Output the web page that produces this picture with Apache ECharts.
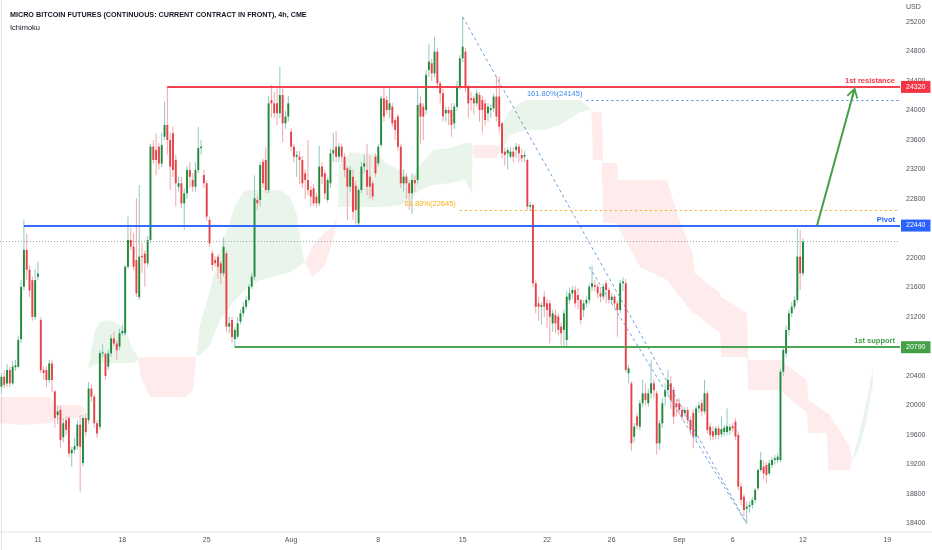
<!DOCTYPE html>
<html><head><meta charset="utf-8">
<script src="https://cdn.jsdelivr.net/npm/echarts@6/dist/echarts.min.js"></script>
<style>html,body{margin:0;padding:0;background:#fff}#c{width:932px;height:550px}</style>
</head><body><div id="c"></div>
<script>
// ---------- data ----------
const N = 320; // category slots (4h bars incl. future space)
const tickIdx = [13,43,73,103,134,164,194,217,241,260,285,315];
const tickLabels = ['11','18','25','Aug','8','15','22','26','Sep','6','12','19'];

// [open, close, low, high]
const candles = [
[20255,20390,20165,20440],[20390,20280,20230,20480],[20300,20480,20250,20560],[20480,20300,20250,20530],[20300,20527,20280,20600],
[20520,20545,20470,20620],[20527,20890,20500,20950],[20900,21610,20850,21700],[21610,22110,21560,22520],[22110,21840,21700,22330],
[21840,21560,21470,21900],[21700,21200,21150,21750],[21200,21700,21160,21850],[21747,21790,21700,21950],[21160,20480,20440,21200],
[20480,20440,20350,20530],[20480,20346,20250,20530],[20346,20570,20300,20620],[20570,20346,20180,20620],[20190,19830,19700,20210],
[19870,19920,19750,19990],[19940,19530,19420,20000],[19570,19760,19500,19830],[19800,19670,19600,19850],[19830,19350,19300,19860],
[19350,19400,19170,19440],[19400,19450,19350,19560],[19450,19740,19400,19800],[19740,19440,18830,19870],[19220,19830,19170,19880],
[19830,19640,19580,19900],[19800,20230,19750,20320],[20230,20120,20050,20280],[20120,19760,19700,20150],[19760,19620,19560,19800],
[19710,20710,19670,20750],[20710,20720,20650,20830],[20700,20400,20350,20720],[20527,20708,20480,20760],[20708,20910,20660,20960],
[20910,20840,20800,21000],[20840,20750,20620,20880],[20800,20980,20750,21040],[20980,21010,20950,21100],[20979,21883,20950,21900],
[21883,22244,21850,22560],[22244,22154,22100,22400],[22154,21883,21830,22340],[21973,21521,21470,22810],[21470,22018,21430,22990],
[22030,22010,21800,22200],[22060,21928,21610,22100],[21928,22244,21880,22300],[22244,23510,22200,23550],[23510,23330,23280,23600],
[23465,23330,23125,23690],[23510,23280,23200,23560],[23280,23530,23230,23700],[23645,23804,23600,24120],[23804,23600,23400,24323],
[23600,23239,22920,23700],[23690,23193,23100,23780],[23330,23013,22700,23400],[22967,23013,22900,23100],[23013,22741,22680,23100],
[22741,22877,22380,22950],[22877,23193,22800,23250],[23193,23100,22950,23300],[23060,22967,22900,23150],[22967,23193,22900,23300],
[23193,23490,23150,23780],[23490,23510,23400,23600],[23125,23013,22950,23200],[23013,22561,22500,23050],[22515,22199,22150,22560],
[22064,21905,21830,22100],[21973,21930,21880,22020],[22018,21883,21720,22050],[21928,21792,21650,21960],[21792,22154,21750,22280],
[22064,21069,21000,22100],[21069,21114,20980,21200],[21160,20930,20850,21200],[20900,21024,20790,21060],[20933,21114,20900,21200],
[21137,21250,21100,21300],[21250,21340,21200,21400],[21340,21431,21300,21480],[21431,21611,21400,21650],[21611,21747,21580,21800],
[21747,22810,21700,23120],[22787,22741,22650,22850],[22787,23261,22700,23300],[23306,23013,22950,23350],[23329,22922,22880,23500],
[22922,24097,22880,24200],[24140,24097,23900,24346],[24097,23962,23900,24250],[24097,23962,23800,24300],[23962,24210,23900,24595],
[24210,23826,23570,24300],[23826,23917,23750,24000],[23917,24097,23850,24200],[23713,23510,23450,23760],[23510,23374,23300,23550],
[23374,23397,23100,23450],[23374,23329,23000,23450],[23329,23013,22950,23380],[23148,23058,22800,23200],[23058,22922,22850,23600],
[22922,22832,22700,22980],[22945,22741,22700,23000],[22832,22741,22680,22880],[22741,23239,22700,23520],[23239,23103,23000,23300],
[23148,22877,22800,23200],[22787,23058,22750,23100],[23013,23419,22950,23480],[23419,23465,23300,23700],[23510,23374,23300,23720],
[23374,23510,23300,23560],[23510,23374,23300,23550],[23374,23193,23100,23420],[23216,22967,22515,23250],[22967,23193,22900,23250],
[23103,22628,22520,23200],[22980,22650,22450,23050],[22470,22922,22425,22950],[22922,23239,22880,23300],[23239,23284,23150,23400],
[23193,22967,22850,23550],[23103,22967,22800,23400],[23013,22832,22780,23050],[23374,23148,23100,23420],[23284,23510,23250,23550],
[23533,24165,23500,24200],[24165,23917,23850,24323],[24142,24007,23950,24200],[24007,24097,23900,24300],[24052,23826,23780,24100],
[23871,23736,23600,23900],[23917,23510,23450,23950],[23510,23013,22950,23550],[23013,23103,22900,23200],[23103,23013,22800,23150],
[23013,22877,22651,23050],[22877,23058,22600,23150],[23058,23013,22900,23120],[23058,24075,23000,24300],[24097,23917,23550,24200],
[24052,23917,23600,24100],[24007,24482,23950,24550],[24550,24663,24450,24900],[24640,24504,24400,24700],[24504,24798,24450,25000],
[24798,24369,24300,24850],[24369,24233,24100,24400],[24233,23917,23850,24300],[23962,24007,23850,24050],[24007,23962,23800,24050],
[24007,23804,23645,24100],[23826,24052,23750,24100],[24052,24323,24000,24400],[24323,24708,24280,24750],[24708,24866,24650,25270],
[24798,24323,24250,24850],[24323,24097,23900,24350],[24165,24143,24000,24250],[24165,24097,23950,24200],[24097,24233,24050,24280],
[24210,24007,23850,24250],[24143,24007,23700,24200],[24097,23871,23800,24150],[23962,24052,23850,24100],[24007,24030,23900,24080],
[24030,24188,23980,24230],[24188,23917,23850,24460],[24188,23781,23700,24460],[23826,23419,23350,23850],[23442,23397,23250,23500],
[23419,23465,23200,23500],[23374,23442,23350,23500],[23442,23374,23300,23500],[23465,23510,23350,23560],[23510,23419,23300,23550],
[23397,23352,23300,23480],[23374,23397,23300,23450],[23329,22696,22650,23350],[22696,22719,22640,22760],[22719,21657,21600,22740],
[21657,21340,21250,21700],[21385,21340,21150,21480],[21340,21363,21100,21400],[21476,21340,21200,21550],[21385,21295,21050,21450],
[21385,21205,20843,21430],[21114,21250,21000,21300],[21228,21114,20980,21300],[21205,21024,20950,21250],[21069,20979,20820,21120],
[21024,21250,20800,21300],[20888,21476,20790,21550],[21431,21521,21380,21600],[21521,21566,21450,21620],[21566,21385,21330,21620],
[21498,21431,21300,21600],[21431,21159,21100,21450],[21295,21385,21200,21430],[21385,21431,21330,21480],[21431,21611,21380,21650],
[21611,21657,21550,21900],[21634,21611,21550,21700],[21611,21521,21450,21650],[21521,21476,21400,21600],[21476,21611,21430,21650],
[21657,21566,21385,21700],[21566,21431,21380,21600],[21431,21476,21380,21520],[21476,21385,21330,21500],[21385,21295,20933,21420],
[21295,21657,21250,21700],[21657,21680,21550,21740],[21657,20482,20450,21720],[20436,20504,20300,20550],[20301,19487,19380,20330],
[19577,19713,19500,19760],[19850,19730,19680,19900],[19713,20030,19660,20080],[20030,20165,19980,20350],[20165,20075,20000,20300],
[20030,20165,19980,20230],[20165,20301,20100,20620],[20301,20210,20100,20350],[20165,19487,19330,20200],[19487,19758,19400,19800],
[19758,20030,19700,20100],[20120,20210,20000,20300],[20210,20346,20150,20480],[20301,20075,19950,20400],[20210,19849,19750,20250],
[20030,19980,19850,20080],[20030,19939,19870,20100],[19939,19849,19800,20000],[19894,19939,19850,19980],[19939,19803,19750,19980],
[19803,19668,19600,19850],[19900,19580,19420,19950],[19580,19960,19520,20000],[19960,20000,19900,20050],[20030,19920,19850,20080],
[19920,20165,19880,20346],[20165,19668,19620,20200],[19713,19600,19530,19760],[19650,19580,19530,19720],[19600,19690,19550,19720],
[19690,19600,19550,19730],[19610,19680,19570,19850],[19640,19700,19580,19730],[19640,19720,19600,19960],[19660,19710,19600,19750],
[19720,19690,19640,19760],[19781,19580,19530,19830],[19600,18900,18850,19650],[18900,18719,18650,18950],[18764,18583,18500,18800],
[18600,18628,18400,18700],[18628,18651,18550,18700],[18651,18719,18600,18760],[18719,18854,18680,18880],[18877,19125,18850,19150],
[19125,19261,19100,19374],[19171,19080,19000,19250],[19193,19058,18945,19230],[19080,19216,19050,19260],[19193,19261,19150,19300],
[19261,19284,19200,19330],[19261,19306,19220,19350],[19261,20459,19230,20500],[20459,20753,20400,20800],[20707,21024,20650,21080],
[21024,21250,20950,21300],[21250,21340,21200,21400],[21340,21431,21300,21480],[21431,22018,21400,22402],[22018,21792,21566,22380],
[21792,22222,21750,22267]
];

// Ichimoku cloud breakpoints (bar index, Senkou span A, Senkou span B)
const cloudX = [-0.5,6.6,17.3,19.1,28,30,31,33.3,35.1,38.6,43.2,44.7,46.8,48.6,49.3,52.8,65.3,68.1,69.2,70.6,74.2,77.7,83.1,86.6,92,99.1,102.6,105.1,107.2,107.9,110.8,115.1,117.9,119.7,120,124,134.6,136.4,141.7,145.3,148.8,153.5,159.5,164.8,167.3,167.5,168,176.2,177.3,178.3,180.8,186.2,193.3,198.6,205.7,209.3,209.8,210.3,213.5,213.9,218.9,219.2,227.1,236.7,240.2,245.9,246.5,255.5,256,265.1,265.5,276.8,286.4,287,293.5,294,301.7,302.4,304.5,307,309.9];
const spanA  = [19762,19735,19762,19803,19830,19950,20549,21024,21132,21159,21064,20956,20752,20657,20413,20115,20115,20210,20644,21091,21566,22108,22719,22922,22922,22922,22827,22583,22041,21932,21742,21905,22244,22583,23261,23437,23397,23288,23193,23058,23261,23464,23491,23559,23559,23440,23356,23356,23480,23803,24007,24142,24142,24142,24142,24034,24010,23329,23329,22474,22474,22420,21878,21702,21525,21254,21254,20983,20657,20657,20210,20210,19898,19627,19627,19125,19125,19250,19530,19940,20520];
const spanB  = [20115,20115,20115,20006,20006,19950,20508,20549,20576,20576,20576,20576,20576,20617,20657,20657,20657,20657,20657,20684,20820,21159,21430,21566,21702,21769,21810,21864,21932,21932,22176,22352,22420,22583,22691,22691,22691,22691,22719,22786,22922,22990,23017,23058,22882,23440,23532,23532,23480,23464,23668,23736,23736,23803,23980,24007,24010,23980,23980,23288,23288,23058,23058,23058,22610,22041,21796,21525,21471,21254,20617,20617,20346,20074,19898,19898,19437,19250,19380,19700,20300];

// Horizontal levels
const levelNames  = ['1st resistance','Pivot','1st support'];
const levelValues = [24320, 22440, 20790];
const levelStart  = [59, 8, 83];
const levelColors = ['#f23645', '#2962ff', '#43a047'];
// Fibonacci levels
const fibNames  = ['161.80%(24145)', '61.80%(22645)'];
const fibValues = [24145, 22645];
const fibStart  = [208, 163];
const fibColors = ['#3d8be8', '#f5b014'];
const lastPrice = 22222;
// Trendlines (from swing high to swing low) and projection arrow
const trend1 = [[164, 25270], [265, 18400]];
const trend2 = [[209, 21880], [265, 18400]];
const arrowPts = [[290, 22440], [303, 24245]];

// ---------- chart ----------
const FONT = 'Liberation Sans, Arial, sans-serif';
const END = N - 0.5;
const cats = Array.from({length: N}, (_, i) => {
  const k = tickIdx.indexOf(i); return k >= 0 ? tickLabels[k] : '';
});

const UP = '#22893a', DOWN = '#e5434a', UPW = '#8ccbbf', DOWNW = '#f2a6aa';
const CG = 'rgba(76,175,80,0.12)', CR = 'rgba(242,54,69,0.10)';

function renderCandle(params, api) {
  const i = api.value(0), o = api.value(1), c = api.value(2), l = api.value(3), h = api.value(4);
  const po = api.coord([i, o]), pc = api.coord([i, c]), pl = api.coord([i, l]), ph = api.coord([i, h]);
  const bw = Math.max(1.6, api.size([1, 0])[0] * 0.68);
  const up = c >= o;
  const top = Math.min(po[1], pc[1]);
  const hgt = Math.max(1, Math.abs(po[1] - pc[1]));
  return {type: 'group', children: [
    {type: 'line', shape: {x1: po[0], y1: ph[1], x2: po[0], y2: pl[1]}, style: {stroke: up ? UPW : DOWNW, lineWidth: 1}},
    {type: 'rect', shape: {x: po[0] - bw / 2, y: top, width: bw, height: hgt}, style: {fill: up ? UP : DOWN}}
  ]};
}

function renderCloud(params, api) {
  const pts = cloudX.map((x, i) => ({x, a: spanA[i], b: spanB[i]}));
  const runs = [];
  let cur = [pts[0]];
  for (let i = 1; i < pts.length; i++) {
    const q = pts[i - 1], p = pts[i];
    const d0 = q.a - q.b, d1 = p.a - p.b;
    if (d0 * d1 < 0) {
      const t = d0 / (d0 - d1);
      const xm = q.x + (p.x - q.x) * t, vm = q.a + (p.a - q.a) * t;
      const m = {x: xm, a: vm, b: vm};
      cur.push(m); runs.push(cur); cur = [m];
    }
    cur.push(p);
    if (d1 === 0) { runs.push(cur); cur = [p]; }
  }
  if (cur.length > 1) runs.push(cur);
  const children = [];
  runs.forEach(run => {
    let s = 0; run.forEach(p => s += p.a - p.b);
    const top = run.map(p => api.coord([p.x, p.a]));
    const bot = run.slice().reverse().map(p => api.coord([p.x, p.b]));
    children.push({type: 'polygon', shape: {points: top.concat(bot)}, style: {fill: s >= 0 ? CG : CR}});
  });
  return {type: 'group', children};
}

const levelLines = [];
levelValues.forEach((v, k) => {
  const ls = {color: levelColors[k], width: 1.5, type: 'solid'};
  levelLines.push([
    {coord: [levelStart[k], v], lineStyle: ls,
     label: {show: true, position: 'insideEndTop', formatter: levelNames[k], color: levelColors[k],
             fontSize: 7.5, fontWeight: 'bold', fontFamily: FONT, distance: [5, 2]}},
    {coord: [END, v]}
  ]);
  levelLines.push([
    {coord: [levelStart[k], v], lineStyle: ls,
     label: {show: true, position: 'end', formatter: String(v), color: '#ffffff', backgroundColor: levelColors[k],
             padding: [3, 5, 2, 5], fontSize: 7, fontFamily: FONT, distance: 1}},
    {coord: [END, v]}
  ]);
});
fibValues.forEach((v, k) => {
  levelLines.push([
    {coord: [fibStart[k], v], lineStyle: {color: fibColors[k], width: 1, type: [2, 3]},
     label: {show: true, position: 'start', formatter: fibNames[k], color: fibColors[k],
             fontSize: 7.5, fontFamily: FONT, distance: 4, offset: [0, -6]}},
    {coord: [END, v]}
  ]);
});
levelLines.push([
  {coord: [-0.5, lastPrice], lineStyle: {color: '#a3a6af', width: 1, type: [1, 2]}, label: {show: false}},
  {coord: [END, lastPrice]}
]);

const chart = echarts.init(document.getElementById('c'), null, {renderer: 'canvas'});
chart.setOption({
  animation: false,
  backgroundColor: '#ffffff',
  title: {
    text: 'MICRO BITCOIN FUTURES (CONTINUOUS: CURRENT CONTRACT IN FRONT), 4h, CME',
    subtext: 'Ichimoku', left: 5, top: 6, itemGap: 3,
    textStyle: {fontSize: 7.2, fontWeight: 'bold', color: '#131722', fontFamily: FONT, lineHeight: 9},
    subtextStyle: {fontSize: 7.5, color: '#131722', fontFamily: FONT, lineHeight: 9}
  },
  graphic: [
    {type: 'text', left: 906, top: 4, style: {text: 'USD', fontSize: 7, fill: '#50535e', fontFamily: FONT}},
    {type: 'rect', left: 0, top: 531.5, shape: {width: 932, height: 1}, style: {fill: '#e0e3eb'}, z: 10}
  ],
  grid: {left: 0, right: 32, top: -7.5, height: 560.5, outerBoundsMode: 'none', containLabel: false},
  xAxis: [
    {type: 'category', data: cats, boundaryGap: true, offset: -21,
     axisLine: {show: false}, axisTick: {show: false}, splitLine: {show: false},
     axisLabel: {interval: (i) => tickIdx.indexOf(i) >= 0, fontSize: 7, color: '#50535e', fontFamily: FONT, margin: 5}},
    {type: 'value', min: -0.5, max: END, show: false}
  ],
  yAxis: {
    type: 'value', position: 'right', min: 18000, max: 25600, interval: 400,
    axisLine: {show: true, lineStyle: {color: '#e0e3eb'}}, axisTick: {show: false}, splitLine: {show: false},
    axisLabel: {fontSize: 7, color: '#50535e', fontFamily: FONT, margin: 6, formatter: (v) => String(v)}
  },
  series: [
    {type: 'custom', name: 'cloud', xAxisIndex: 1, silent: true, z: 1,
     renderItem: renderCloud, data: [[cloudX[0], spanA[0]]]},
    {type: 'line', name: 'levels', xAxisIndex: 1, silent: true, z: 2, showSymbol: false, symbol: 'none',
     data: [[levelStart[1], levelValues[1]]], lineStyle: {opacity: 0},
     markLine: {silent: true, symbol: ['none', 'none'], animation: false, data: levelLines}},
    {type: 'custom', name: 'candles', xAxisIndex: 0, silent: true, z: 3,
     renderItem: renderCandle, encode: {x: 0, y: [1, 2, 3, 4]},
     data: candles.map((d, i) => [i, d[0], d[1], d[2], d[3]])},
    {type: 'line', name: 'trend1', xAxisIndex: 1, silent: true, z: 4, symbol: 'none',
     data: trend1, lineStyle: {color: '#6a9fe0', width: 1, type: [3, 3]}},
    {type: 'line', name: 'trend2', xAxisIndex: 1, silent: true, z: 4, symbol: 'none',
     data: trend2, lineStyle: {color: '#6a9fe0', width: 1, type: [3, 3]}},
    {type: 'line', name: 'arrow', xAxisIndex: 1, silent: true, z: 5, symbol: 'none',
     data: [arrowPts[0]], lineStyle: {opacity: 0},
     markLine: {silent: true, animation: false,
       symbol: ['none', 'path://M6,0 L12,10 L10.4,10.8 L6,3.4 L1.6,10.8 L0,10 Z M5.2,2.5 L6.8,2.5 L6.8,11 L5.2,11 Z'],
       symbolSize: [12, 11],
       lineStyle: {color: '#43a047', width: 2, type: 'solid'}, label: {show: false},
       data: [[{coord: arrowPts[0]}, {coord: arrowPts[1]}]]}}
  ]
});
</script></body></html>
